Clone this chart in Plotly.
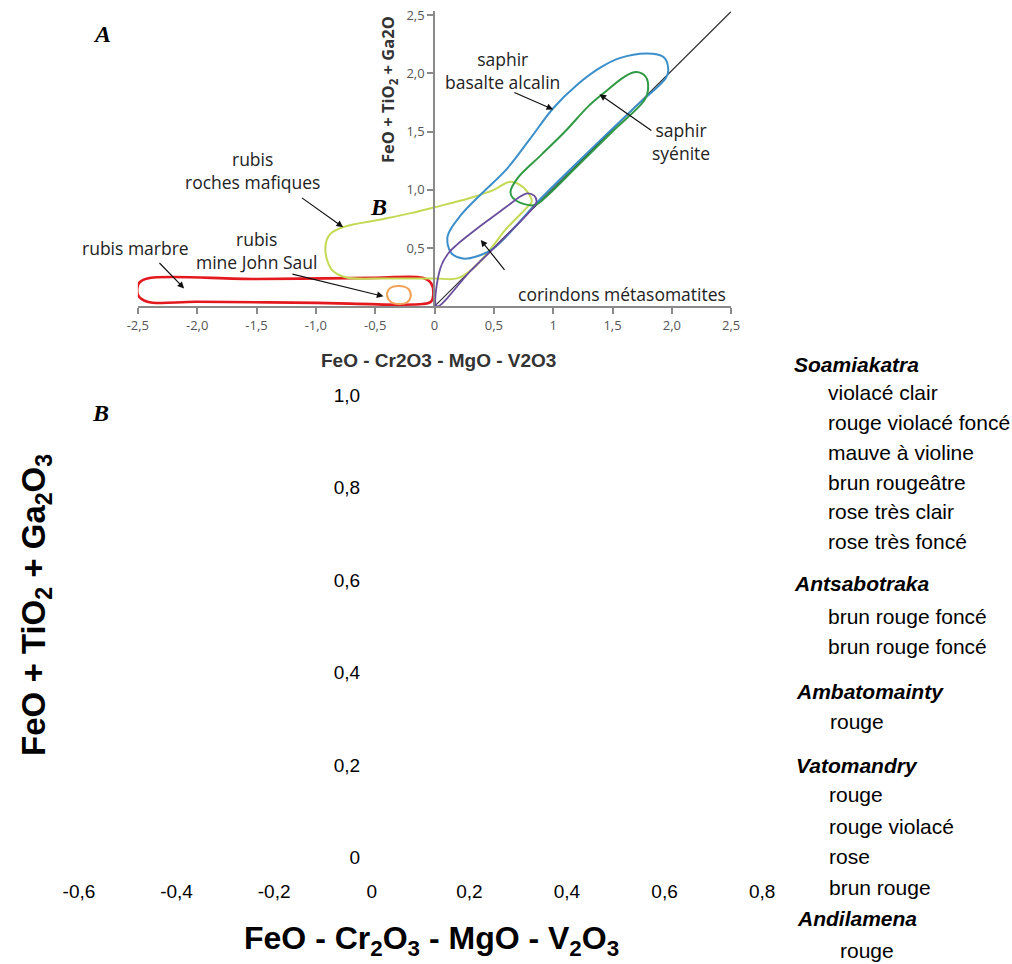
import plotly.graph_objects as go

W, H = 1012, 964

# ---------------- Data: panel A fields (FeO-Cr2O3-MgO-V2O3 vs FeO+TiO2+Ga2O3) -------------
rubis_marbre_x = [-2.42, -1.5, -0.5, -0.1, -0.03, -0.01, -0.03, -0.1, -1.0, -2.0, -2.42, -2.5, -2.49, -2.42]
rubis_marbre_y = [0.24, 0.235, 0.245, 0.245, 0.2, 0.1, 0.04, 0.02, 0.03, 0.04, 0.04, 0.1, 0.2, 0.24]

john_saul_x = [-0.4, -0.37, -0.3, -0.22, -0.2, -0.23, -0.3, -0.37, -0.4]
john_saul_y = [0.1, 0.16, 0.175, 0.15, 0.09, 0.035, 0.02, 0.04, 0.1]

mafiques_x = [-0.92, -0.88, -0.77, -0.43, -0.2, 0.0, 0.3, 0.5, 0.64, 0.75, 0.82, 0.78, 0.6, 0.47, 0.33, 0.19, 0.0, -0.4, -0.75, -0.87, -0.92]
mafiques_y = [0.5, 0.62, 0.68, 0.75, 0.8, 0.85, 0.93, 1.0, 1.07, 1.02, 0.9, 0.85, 0.66, 0.49, 0.33, 0.24, 0.24, 0.24, 0.25, 0.32, 0.5]

basalte_x = [0.11, 0.22, 0.4, 0.61, 0.8, 1.0, 1.2, 1.4, 1.56, 1.79, 1.93, 1.97, 1.95, 1.7, 1.3, 0.9, 0.5, 0.36, 0.24, 0.14, 0.11]
basalte_y = [0.6, 0.78, 0.97, 1.18, 1.43, 1.7, 1.9, 2.05, 2.13, 2.17, 2.14, 2.03, 1.96, 1.72, 1.33, 0.93, 0.5, 0.43, 0.41, 0.46, 0.6]

syenite_x = [0.64, 0.7, 0.9, 1.1, 1.3, 1.45, 1.6, 1.7, 1.78, 1.8, 1.77, 1.5, 1.2, 0.95, 0.85, 0.72, 0.66, 0.64]
syenite_y = [0.98, 1.1, 1.3, 1.5, 1.72, 1.85, 1.97, 2.01, 1.97, 1.86, 1.77, 1.5, 1.2, 0.95, 0.87, 0.89, 0.93, 0.98]

metaso_x = [0.02, 0.05, 0.12, 0.19, 0.4, 0.6, 0.72, 0.78, 0.84, 0.86, 0.84, 0.6, 0.3, 0.02]
metaso_y = [0.0, 0.33, 0.46, 0.53, 0.7, 0.85, 0.94, 0.97, 0.95, 0.9, 0.86, 0.6, 0.3, 0.0]

diag_x = [0.0, 2.5]
diag_y = [0.0, 2.53]

# tick labels
a_xticks = [-2.5, -2.0, -1.5, -1.0, -0.5, 0, 0.5, 1, 1.5, 2.0, 2.5]
a_xtext = ["-2,5", "-2,0", "-1,5", "-1,0", "-0,5", "0", "0,5", "1", "1,5", "2,0", "2,5"]
a_yticks = [0.5, 1.0, 1.5, 2.0, 2.5]
a_ytext = ["0,5", "1,0", "1,5", "2,0", "2,5"]

b_xticks = [-0.6, -0.4, -0.2, 0, 0.2, 0.4, 0.6, 0.8]
b_xtext = ["-0,6", "-0,4", "-0,2", "0", "0,2", "0,4", "0,6", "0,8"]
b_yticks = [0, 0.2, 0.4, 0.6, 0.8, 1.0]
b_ytext = ["0", "0,2", "0,4", "0,6", "0,8", "1,0"]

# legend of panel B
sites = ["Soamiakatra", "Antsabotraka", "Ambatomainty", "Vatomandry", "Andilamena"]
site_colours = [
    ["violacé clair", "rouge violacé foncé", "mauve à violine", "brun rougeâtre", "rose très clair", "rose très foncé"],
    ["brun rouge foncé", "brun rouge foncé"],
    ["rouge"],
    ["rouge", "rouge violacé", "rose", "brun rouge"],
    ["rouge"],
]

# ---------------- layout constants (target pixels in the picture) ----------------
legend_rows_y = [363, 391, 421, 451, 481, 511, 541,
                 583, 616, 646,
                 691, 721,
                 765, 794, 826, 856, 887,
                 918, 950]
header_x = [793, 793, 795, 795, 796]
item_x = [827, 827, 829, 828, 839]

# small compensation between target picture pixels and page pixels
SX, OX = 0.983, 9.8
SY, OY = 0.9958, 4.0


def px(p):
    return ((p - OX) / SX) / W


def py(p):
    return 1 - ((p - OY) / SY) / H


fig = go.Figure()

fields = [
    (rubis_marbre_x, rubis_marbre_y, "#e3191f", 2.6, "rubis marbre"),
    (john_saul_x, john_saul_y, "#f2a35a", 2.0, "rubis mine John Saul"),
    (mafiques_x, mafiques_y, "#c3da55", 2.0, "rubis roches mafiques"),
    (basalte_x, basalte_y, "#3b8fca", 2.0, "saphir basalte alcalin"),
    (syenite_x, syenite_y, "#2f9a43", 2.0, "saphir syénite"),
    (metaso_x, metaso_y, "#6a4e9e", 1.8, "corindons métasomatites"),
]
fig.add_trace(go.Scatter(x=diag_x, y=diag_y, mode="lines", line=dict(color="#333333", width=1.2),
                         xaxis="x", yaxis="y", showlegend=False, hoverinfo="skip"))
for fx, fy, col, lw, name in fields:
    fig.add_trace(go.Scatter(x=fx, y=fy, mode="lines", name=name,
                             line=dict(color=col, width=lw, shape="spline", smoothing=1.0),
                             xaxis="x", yaxis="y", showlegend=False))

# empty panel B axes carrier
fig.add_trace(go.Scatter(x=[], y=[], xaxis="x2", yaxis="y2", showlegend=False))

tick_font_a = dict(family="Open Sans, Lato, sans-serif", size=13, color="#555555")
tick_font_b = dict(family="Liberation Sans, Arial, sans-serif", size=19, color="#000000")

# panel A y axis: 2.5 sits at 13 px, range extends a little higher (to 2.53 at ~9.5 px)
fig.update_layout(
    width=W, height=H,
    margin=dict(l=0, r=0, t=0, b=0),
    paper_bgcolor="white", plot_bgcolor="rgba(0,0,0,0)",
    showlegend=False,
    xaxis=dict(domain=[px(137), px(732)], range=[-2.5, 2.5], anchor="y",
               showline=True, linecolor="#8a8a8a", linewidth=1.5,
               ticks="outside", ticklen=6, tickcolor="#8a8a8a", tickwidth=1.5,
               tickvals=a_xticks, ticktext=a_xtext, tickfont=tick_font_a,
               ticklabeloverflow="allow",
               showgrid=False, zeroline=False, fixedrange=True),
    yaxis=dict(domain=[py(305), py(9.5)], range=[0, 2.53], anchor="free", position=px(434),
               showline=True, linecolor="#8a8a8a", linewidth=1.5,
               ticks="outside", ticklen=6, tickcolor="#8a8a8a", tickwidth=1.5,
               tickvals=a_yticks, ticktext=a_ytext, tickfont=tick_font_a,
               ticklabeloverflow="allow",
               showgrid=False, zeroline=False, fixedrange=True),
    xaxis2=dict(domain=[px(29), px(812)], range=[-0.7, 0.9], anchor="y2",
                showline=False, ticks="", tickvals=b_xticks, ticktext=b_xtext,
                tickfont=tick_font_b, ticklabelstandoff=0, ticklabeloverflow="allow",
                showgrid=False, zeroline=False, fixedrange=True),
    yaxis2=dict(domain=[py(878), py(371)], range=[-0.045, 1.05], anchor="free", position=px(372),
                showline=False, ticks="", tickvals=b_yticks, ticktext=b_ytext,
                tickfont=tick_font_b, ticklabelstandoff=12, ticklabeloverflow="allow",
                showgrid=False, zeroline=False, fixedrange=True),
)

ann = []
lab_font = dict(family="Open Sans, Lato, sans-serif", size=17.5, color="#222222")

# panel A labels (data coords)
labels_a = [
    ("rubis<br>mine John Saul", -1.50, 0.48),
    ("rubis<br>roches mafiques", -1.53, 1.165),
    ("saphir<br>basalte alcalin", 0.57, 2.02),
    ("saphir<br>syénite", 2.08, 1.415),
    ("corindons métasomatites", 1.58, 0.11),
]
for t, x, y in labels_a:
    ann.append(dict(text=t, x=x, y=y, xref="x", yref="y", showarrow=False,
                    font=lab_font, xanchor="center", yanchor="middle", align="center"))
# label lying left of the axis range: placed in paper coordinates
ann.append(dict(text="rubis marbre", x=px(135), y=py(246), xref="paper", yref="paper", showarrow=False,
                font=lab_font, xanchor="center", yanchor="middle"))

arrows_a = [
    ((-2.33, 0.385), (-2.11, 0.154)),
    ((-1.21, 0.28), (-0.43, 0.086)),
    ((-1.13, 0.94), (-0.77, 0.68)),
    ((0.66, 1.84), (1.0, 1.69)),
    ((1.84, 1.50), (1.39, 1.82)),
    ((0.60, 0.30), (0.39, 0.57)),
]
for (tx, ty), (hx, hy) in arrows_a:
    ann.append(dict(text="", x=hx, y=hy, xref="x", yref="y", ax=tx, ay=ty, axref="x", ayref="y",
                    showarrow=True, arrowhead=2, arrowsize=1.1, arrowwidth=1.2, arrowcolor="#111111"))

# panel A axis titles
ann.append(dict(text="FeO - Cr2O3 - MgO - V2O3", x=px(439), y=py(359), xref="paper", yref="paper",
                showarrow=False,
                font=dict(family="Liberation Sans, Arial, sans-serif", size=19, color="#333333", weight="bold"),
                xanchor="center", yanchor="middle"))
ann.append(dict(text="FeO + TiO<sub>2</sub> + Ga2O", x=px(388), y=py(88), xref="paper", yref="paper",
                showarrow=False, textangle=-90,
                font=dict(family="Open Sans, sans-serif", size=16.5, color="#333333", weight="bold"),
                xanchor="center", yanchor="middle"))

# panel letters
letter_font = dict(family="Liberation Serif, Times New Roman, serif", size=24, color="#000000",
                   weight="bold", style="italic")
for t, xp, yp in [("A", 101, 32), ("B", 378, 205), ("B", 100, 412)]:
    ann.append(dict(text=t, x=px(xp), y=py(yp), xref="paper", yref="paper", showarrow=False,
                    font=letter_font, xanchor="center", yanchor="middle"))

# panel B axis titles
title_b_font = dict(family="Liberation Sans, Arial, sans-serif", size=32, color="#000000", weight="bold")
ann.append(dict(text="FeO - Cr<sub>2</sub>O<sub>3</sub> - MgO - V<sub>2</sub>O<sub>3</sub>",
                x=px(431), y=py(940), xref="paper", yref="paper", showarrow=False,
                font=title_b_font, xanchor="center", yanchor="middle"))
ann.append(dict(text="FeO + TiO<sub>2</sub> + Ga<sub>2</sub>O<sub>3</sub>",
                x=px(35), y=py(604), xref="paper", yref="paper", showarrow=False, textangle=-90,
                font=dict(family="Liberation Sans, Arial, sans-serif", size=33, color="#000000", weight="bold"),
                xanchor="center", yanchor="middle"))

# legend of panel B
row = 0
leg_font = dict(family="Liberation Sans, Arial, sans-serif", size=21, color="#000000")
head_font = dict(family="Liberation Sans, Arial, sans-serif", size=21, color="#000000",
                 weight="bold", style="italic")
for gi, site in enumerate(sites):
    ann.append(dict(text=site, x=px(header_x[gi]), y=py(legend_rows_y[row]), xref="paper", yref="paper",
                    showarrow=False, font=head_font, xanchor="left", yanchor="middle"))
    row += 1
    for c in site_colours[gi]:
        ann.append(dict(text=c, x=px(item_x[gi]), y=py(legend_rows_y[row]), xref="paper", yref="paper",
                        showarrow=False, font=leg_font, xanchor="left", yanchor="middle"))
        row += 1

fig.update_layout(annotations=ann)

reset_css = (
    "var de=document.documentElement;de.style.margin='0';de.style.padding='0';de.style.overflow='hidden';"
    "document.body.style.margin='0';document.body.style.padding='0';document.body.style.overflow='hidden';"
    "var gd=document.getElementById('{plot_id}');gd.style.position='fixed';gd.style.left='0px';gd.style.top='0px';"
)
fig.write_html("out.html", config={"displayModeBar": False}, post_script=reset_css)
